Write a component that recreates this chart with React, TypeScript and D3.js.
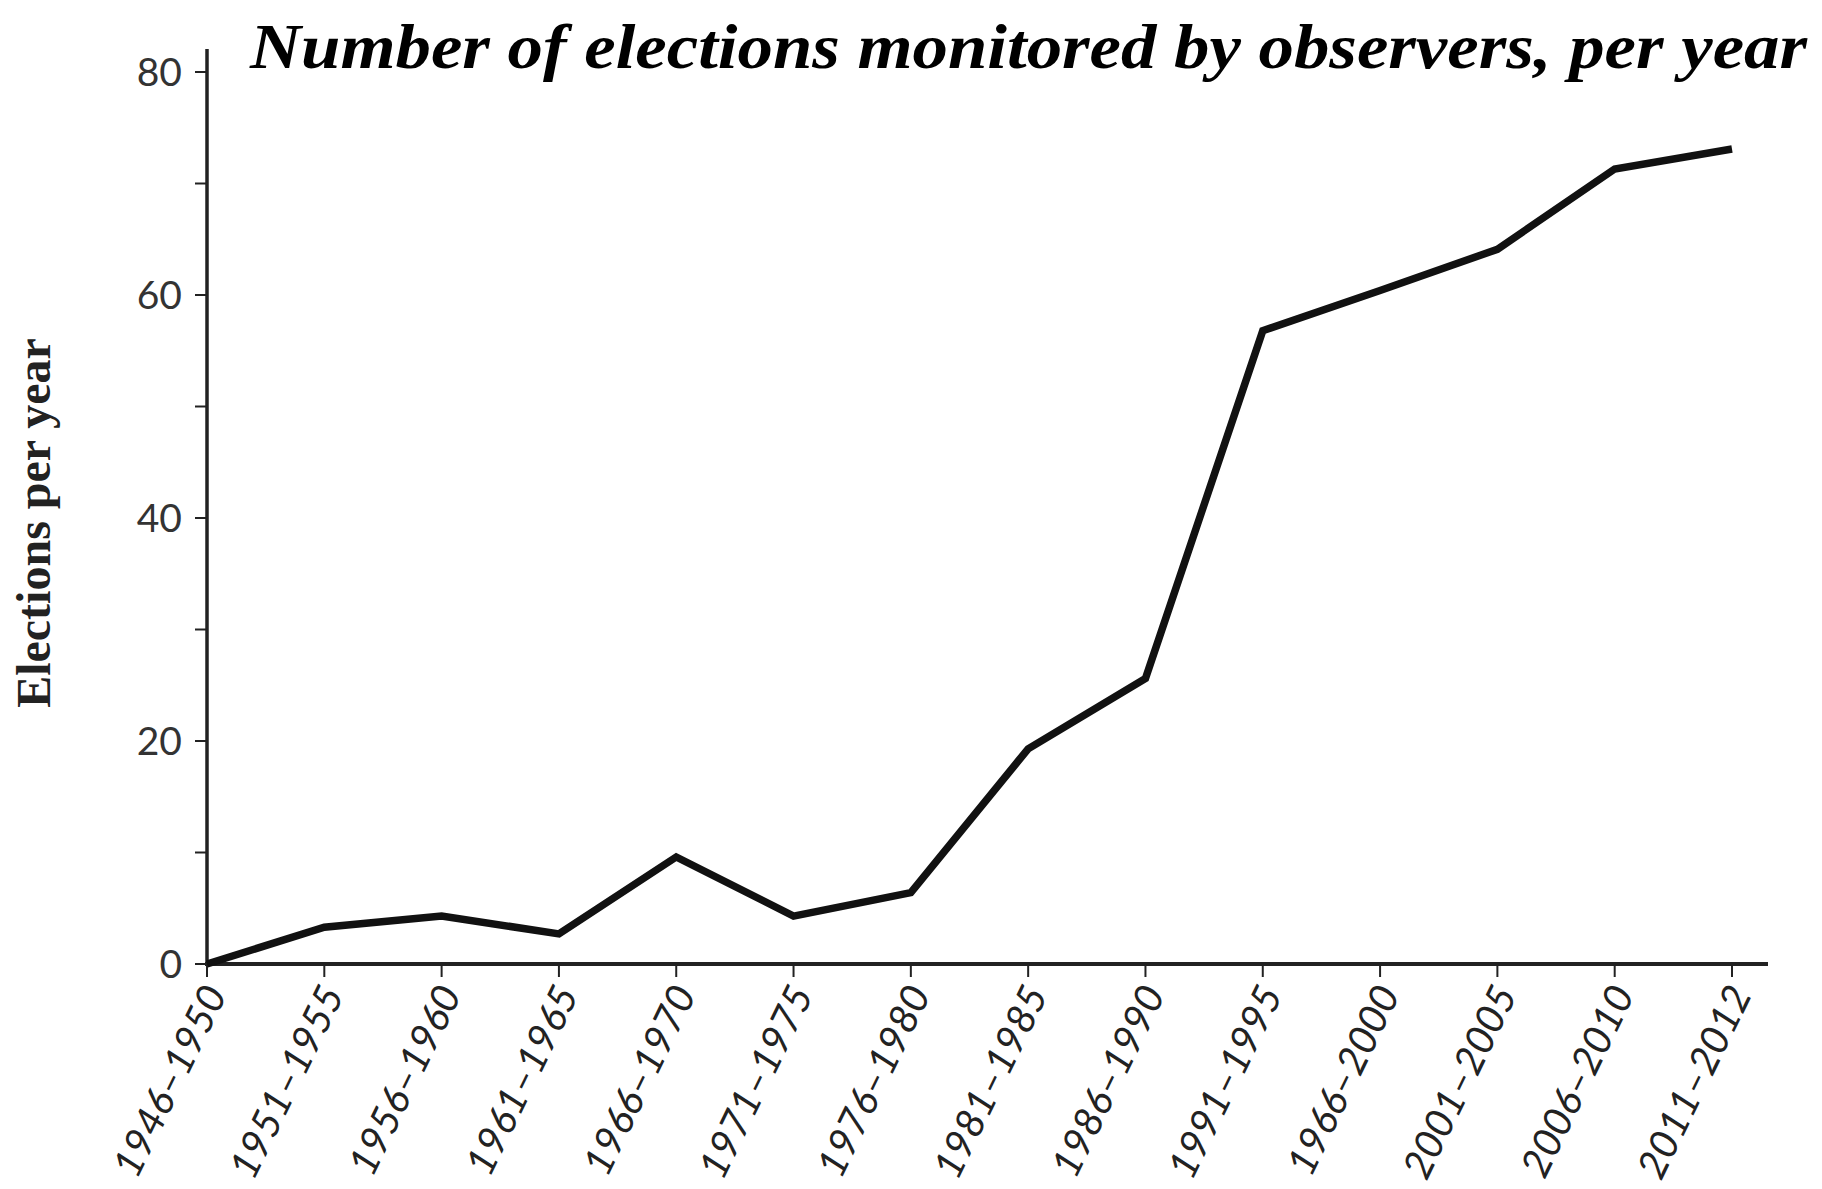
import React from "react";
import * as d3 from "d3";

const periods: string[] = [
  "1946–1950", "1951–1955", "1956–1960", "1961–1965", "1966–1970",
  "1971–1975", "1976–1980", "1981–1985", "1986–1990", "1991–1995",
  "1966–2000", "2001–2005", "2006–2010", "2011–2012",
];
const electionsPerYear: number[] = [
  0, 3.3, 4.3, 2.7, 9.6, 4.3, 6.4, 19.3, 25.6, 56.8, 60.4, 64.1, 71.3, 73.1,
];
const yTicks: number[] = [0, 10, 20, 30, 40, 50, 60, 70, 80];
const yLabelTicks: number[] = [0, 20, 40, 60, 80];

const W = 1822;
const H = 1189;

export default function App() {
  const x = d3.scalePoint<string>().domain(periods).range([207, 1732]);
  const y = d3.scaleLinear().domain([0, 80]).range([964, 72]);
  const line = d3
    .line<number>()
    .x((_, i) => x(periods[i]) as number)
    .y((d) => y(d));
  const axisColor = "#222";
  return (
    <svg
      width={W}
      height={H}
      style={{ position: "absolute", left: 0, top: 0, background: "#fff" }}
    >
      <rect x={0} y={0} width={W} height={H} fill="#fff" />
      {/* title */}
      <text
        x={250}
        y={68}
        textLength={1557}
        lengthAdjust="spacingAndGlyphs"
        fontFamily="'Liberation Serif', serif"
        fontStyle="italic"
        fontWeight="bold"
        fontSize={64}
        fill="#000"
      >
        Number of elections monitored by observers, per year
      </text>
      {/* y axis label */}
      <text
        transform={`translate(50, ${y(40) + 5}) rotate(-90)`}
        textAnchor="middle"
        fontFamily="'Liberation Serif', serif"
        fontWeight="bold"
        fontSize={48}
        fill="#222"
      >
        Elections per year
      </text>
      {/* y axis */}
      <line x1={207} x2={207} y1={49} y2={y(0)} stroke={axisColor} strokeWidth={3.5} />
      {yTicks.map((t) => (
        <g key={t}>
          <line x1={195} x2={207} y1={y(t)} y2={y(t)} stroke={axisColor} strokeWidth={2} />
          {yLabelTicks.includes(t) && (
            <text
              x={182}
              y={y(t)}
              dy="0.36em"
              textAnchor="end"
              fontFamily="Lato, 'Open Sans', sans-serif"
              fontSize={39}
              fill="#333"
            >
              {t}
            </text>
          )}
        </g>
      ))}
      {/* x axis */}
      <line x1={205} x2={1768} y1={y(0)} y2={y(0)} stroke={axisColor} strokeWidth={4} />
      {periods.map((p) => (
        <g key={p} transform={`translate(${x(p)}, ${y(0)})`}>
          <line y1={0} y2={13} stroke={axisColor} strokeWidth={2} />
          <text
            transform="translate(8, 24) rotate(-64)"
            textAnchor="end"
            dy="0.35em"
            fontFamily="Lato, 'Open Sans', sans-serif"
            fontStyle="italic"
            fontSize={40}
            fill="#222"
          >
            {p}
          </text>
        </g>
      ))}
      {/* data line */}
      <path
        d={line(electionsPerYear) || ""}
        fill="none"
        stroke="#111"
        strokeWidth={7.5}
        strokeLinejoin="miter"
      />
    </svg>
  );
}
